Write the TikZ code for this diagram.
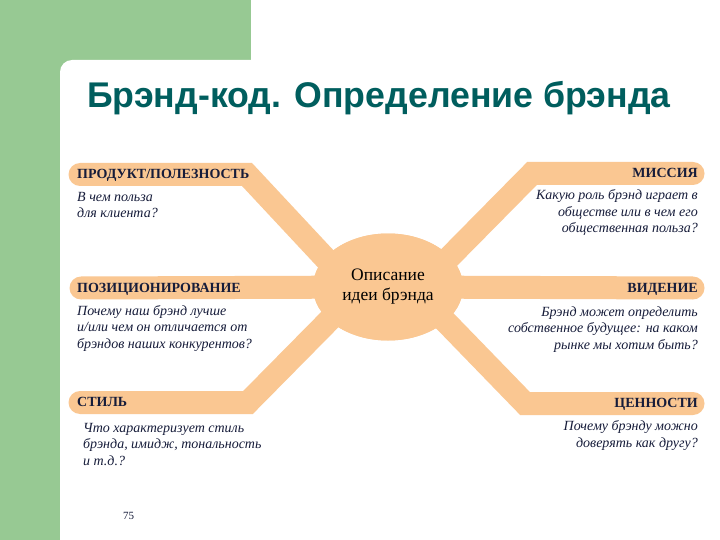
\documentclass[tikz,border=0pt]{standalone}
\usepackage{fontspec}
\setmainfont{Liberation Serif}
\newfontfamily\headsans{Liberation Sans}
\usetikzlibrary{shapes.geometric}
\definecolor{slidegreen}{RGB}{151,201,147}
\definecolor{titleteal}{RGB}{0,94,94}
\definecolor{armpeach}{RGB}{250,199,146}
\definecolor{inkblue}{RGB}{22,28,58}

\begin{document}
\begin{tikzpicture}[x=1pt,y=-1pt,
    arm/.style={line width=23pt, armpeach, line cap=round},
    headL/.style={anchor=base west, inner sep=0pt, inkblue, font=\bfseries\fontsize{14}{16}\selectfont},
    headR/.style={headL, anchor=base east},
    askL/.style={anchor=base west, inner sep=0pt, align=left, inkblue, font=\itshape\fontsize{14}{16.5}\selectfont},
    askR/.style={askL, anchor=base east, align=right}]
    \useasboundingbox (0,0) rectangle (720,540);

    % slide frame
    \fill[slidegreen] (0,0) rectangle (251,72);
    \fill[slidegreen] (0,0) rectangle (72,540);
    \fill[white, rounded corners=12pt] (60,560) -- (60,60) -- (740,60) -- (740,560) -- cycle;

    \node[anchor=base west, inner sep=0pt, titleteal, font=\headsans\bfseries\fontsize{35.7}{40}\selectfont] (title) at (87,108) {Брэнд-код. Определение брэнда};

    % bar ends and bends
    \coordinate (prodEnd) at (80,174.5);   \coordinate (prodBend) at (247,174.5);
    \coordinate (posEnd) at (81,288);
    \coordinate (styleEnd) at (80,402.5);  \coordinate (styleBend) at (248,402.5);
    \coordinate (missionEnd) at (693,173.5); \coordinate (missionBend) at (532,173.5);
    \coordinate (visionEnd) at (693,288);
    \coordinate (valuesEnd) at (693,403.5); \coordinate (valuesBend) at (525,403.5);

    \node[ellipse, fill=armpeach, minimum width=150pt, minimum height=107pt, inner sep=0pt] (hub) at (388,287) {};

    \draw[arm] (prodEnd) -- (prodBend) -- (352,287);
    \draw[arm] (posEnd) -- (hub.center);
    \draw[arm] (styleEnd) -- (styleBend) -- (362,287);
    \draw[arm] (missionEnd) -- (missionBend) -- (420,287);
    \draw[arm] (visionEnd) -- (hub.center);
    \draw[arm] (valuesEnd) -- (valuesBend) -- (412,287);
    \node[ellipse, fill=armpeach, minimum width=150pt, minimum height=107pt, inner sep=0pt,
          align=center, font=\fontsize{17.5}{20}\selectfont] at (hub) {Описание\\идеи брэнда};

    \node[headL] (prodHead) at (77,179) {ПРОДУКТ/ПОЛЕЗНОСТЬ};
    \node[headL] (posHead) at (77,292) {ПОЗИЦИОНИРОВАНИЕ};
    \node[headL] (styleHead) at (77,406.5) {СТИЛЬ};
    \node[headR] (missionHead) at (698,178) {МИССИЯ};
    \node[headR] (visionHead) at (698,292) {ВИДЕНИЕ};
    \node[headR] (valuesHead) at (698,407) {ЦЕННОСТИ};

    \node[askL] (prodText) at (77,218) {В чем польза\\для клиента?};
    \node[askL] (posText) at (77,348) {Почему наш брэнд лучше\\и/или чем он отличается от\\брэндов наших конкурентов?};
    \node[askL] (styleText) at (83,465) {Что характеризует стиль\\брэнда, имидж, тональность\\и т.д.?};
    \node[askR] (missionText) at (698,233) {Какую роль брэнд играет в\\обществе или в чем его\\общественная польза?};
    \node[askR] (visionText) at (698,349) {Брэнд может определить\\собственное будущее: на каком\\рынке мы хотим быть?};
    \node[askR] (valuesText) at (698,447) {Почему брэнду можно\\доверять как другу?};

    \node[anchor=base west, inner sep=0pt, inkblue, font=\fontsize{11}{13}\selectfont] (pageNo) at (123,519) {75};
\end{tikzpicture}
\end{document}
